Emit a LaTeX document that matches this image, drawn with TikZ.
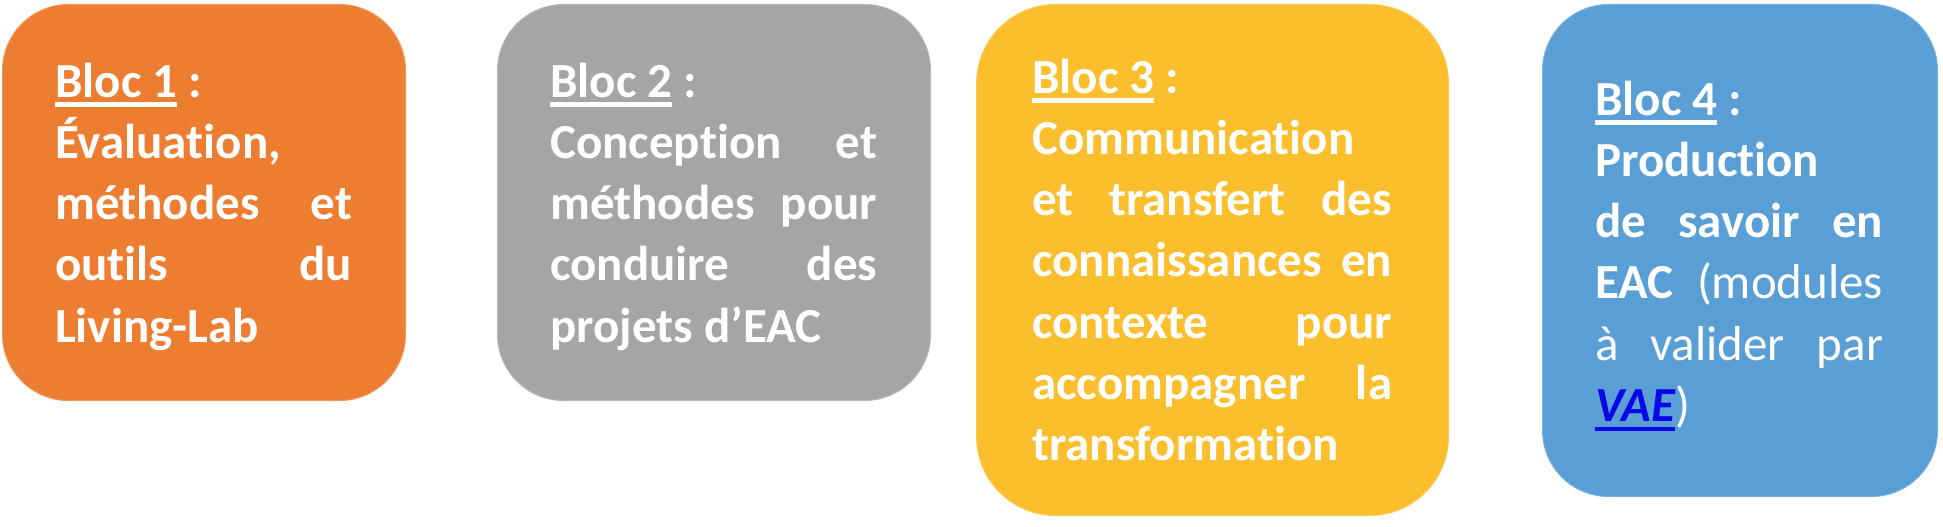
\documentclass[tikz,border=0pt]{standalone}
\usepackage{fontspec}
\setmainfont{Carlito}[Ligatures=NoCommon]
\definecolor{c1}{HTML}{ED7D31}
\definecolor{c2}{HTML}{A5A5A5}
\definecolor{c3}{HTML}{FBBE2D}
\definecolor{c4}{HTML}{599ED5}
\definecolor{vaeblue}{RGB}{8,8,230}
\newcommand\ulbloc[2]{\leavevmode\setbox0\hbox{#2}\rlap{\color{#1}\rule[-9.5pt]{\wd0}{4.5pt}}\box0\relax}
\tikzset{
  bloc/.style={anchor=north west, inner sep=0pt, line width=1pt},
  txt/.style={anchor=base west, inner sep=0pt, text=white,
    font=\fontsize{49}{61.3}\selectfont\bfseries}
}
\begin{document}
\begin{tikzpicture}[x=1pt,y=-1pt]
\useasboundingbox (0,0) rectangle (1943,527);
% boxes
\node[bloc, fill=c1, draw=c1!80!white, rounded corners=66pt,
  minimum width=403pt, minimum height=396pt] (b1) at (2,4) {};
\node[bloc, fill=c2, draw=c2!80!white, rounded corners=66pt,
  minimum width=433pt, minimum height=396pt] (b2) at (497,4) {};
\node[bloc, fill=c3, draw=c3!80!white, rounded corners=79pt,
  minimum width=472pt, minimum height=511pt] (b3) at (976,4) {};
\node[bloc, fill=c4, draw=c4!80!white, rounded corners=66pt,
  minimum width=395pt, minimum height=492pt] (b4) at (1542,4) {};
% texts
\node[txt] (t1) at (55,97) {\parbox[t]{297pt}{%
\ulbloc{white}{Bloc 1} :\par
Évaluation,\par
\hbox to\linewidth{méthodes\hfill et}
\hbox to\linewidth{outils\hfill du}
Living-Lab}};
\node[txt] (t2) at (550,97) {\parbox[t]{327pt}{%
\ulbloc{white}{Bloc 2} :\par
\hbox to\linewidth{Conception\hfill et}
\hbox to\linewidth{méthodes\hfill pour}
\hbox to\linewidth{conduire\hfill des}
projets d’EAC}};
\node[txt] (t3) at (1032,93) {\parbox[t]{360pt}{%
\ulbloc{white}{Bloc 3} :\par
Communication\par
\hbox to\linewidth{et\hfill transfert\hfill des}
\hbox to\linewidth{connaissances\hfill en}
\hbox to\linewidth{contexte\hfill pour}
\hbox to\linewidth{accompagner\hfill la}
transformation}};
\node[txt] (t4) at (1595,115) {\parbox[t]{288pt}{%
\ulbloc{white}{Bloc 4} :\par
Production\par
\hbox to\linewidth{de\hfill savoir\hfill en}
\hbox to\linewidth{EAC\hfill\mdseries(modules}
\hbox to\linewidth{\mdseries à\hfill valider\hfill par}
\leavevmode{\itshape\color{vaeblue}\ulbloc{vaeblue}{VAE}}{\mdseries)}}};
\end{tikzpicture}
\end{document}
